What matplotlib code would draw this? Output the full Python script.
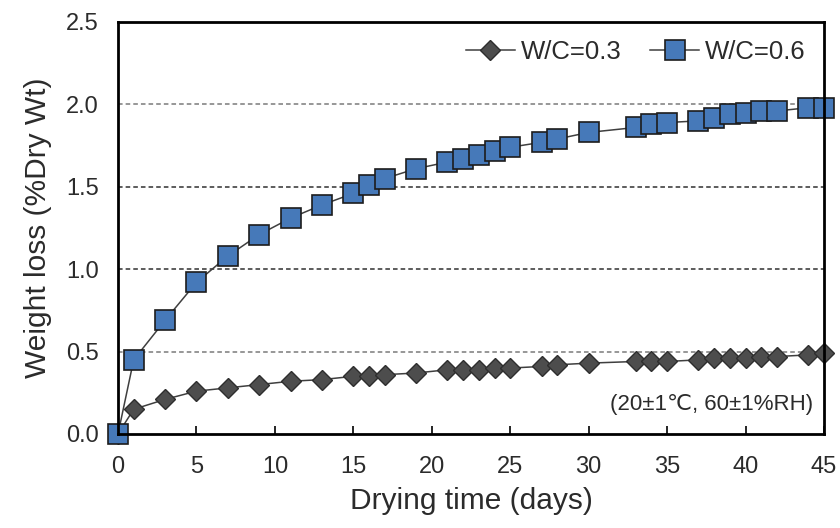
import matplotlib
matplotlib.use("Agg")

import matplotlib.pyplot as plt

# -----------------------
# DATA
# -----------------------
days = [0, 1, 3, 5, 7, 9, 11, 13, 15, 16, 17, 19, 21, 22, 23, 24, 25,
        27, 28, 30, 33, 34, 35, 37, 38, 39, 40, 41, 42, 44, 45]

loss_wc03 = [0.00, 0.15, 0.21, 0.26, 0.28, 0.30, 0.32, 0.33, 0.35, 0.35, 0.36,
             0.37, 0.39, 0.39, 0.39, 0.40, 0.40, 0.41, 0.42, 0.43, 0.44, 0.44,
             0.44, 0.45, 0.46, 0.46, 0.46, 0.47, 0.47, 0.48, 0.49]

loss_wc06 = [0.00, 0.45, 0.69, 0.92, 1.08, 1.21, 1.31, 1.39, 1.46, 1.51, 1.55,
             1.61, 1.65, 1.67, 1.69, 1.72, 1.74, 1.77, 1.79, 1.83, 1.86, 1.88,
             1.89, 1.90, 1.92, 1.94, 1.95, 1.96, 1.96, 1.98, 1.98]

x_ticks = [0, 5, 10, 15, 20, 25, 30, 35, 40, 45]
y_ticks = [0.0, 0.5, 1.0, 1.5, 2.0, 2.5]
grid_levels = [0.5, 1.0, 1.5, 2.0]
grid_colors = ["#7a7a7a", "#303030", "#303030", "#7a7a7a"]

text_color = "#2b2b2b"
plt.rcParams['font.family'] = ['Liberation Sans', 'DejaVu Sans']

# -----------------------
# PLOT
# -----------------------
fig = plt.figure(figsize=(8.4, 5.28), dpi=100)
ax = fig.add_axes([118 / 840, 1 - 434 / 528, (824 - 118) / 840, (434 - 22) / 528])

for lvl, col in zip(grid_levels, grid_colors):
    ax.axhline(lvl, color=col, lw=1.1, ls=(0, (3, 2)), zorder=1)

ax.plot(days, loss_wc03, color="#3f3f3f", lw=1.1, marker="D", ms=10.5,
        mfc="#4d4d4d", mec="#2e2e2e", mew=1.0, label="W/C=0.3",
        clip_on=False, zorder=3)
ax.plot(days, loss_wc06, color="#3f3f3f", lw=1.1, marker="s", ms=14,
        mfc="#4679b9", mec="#1c1c1c", mew=1.2, label="W/C=0.6",
        clip_on=False, zorder=4)

ax.set_xlim(0, 45)
ax.set_ylim(0, 2.5)
ax.set_xticks(x_ticks)
ax.set_yticks(y_ticks)
ax.set_yticklabels([f"{v:.1f}" for v in y_ticks])

ax.tick_params(axis="x", direction="in", length=6, width=1.2, pad=16,
               labelsize=17, labelcolor=text_color)
ax.tick_params(axis="y", length=0, pad=14, labelsize=17, labelcolor=text_color)

for sp in ax.spines.values():
    sp.set_linewidth(2.0)
    sp.set_color("black")
    sp.set_zorder(5)

ax.set_xlabel("Drying time (days)", fontsize=21.5, color=text_color, labelpad=6)
ax.set_ylabel("Weight loss (%Dry Wt)", fontsize=21.5, color=text_color, labelpad=10)

ax.legend(loc="upper right", ncol=2, frameon=False, fontsize=18.5,
          handlelength=1.9, handletextpad=0.25, columnspacing=1.1,
          borderaxespad=0.3, labelcolor=text_color)

ax.text(0.985, 0.045, "(20±1℃, 60±1%RH)", transform=ax.transAxes,
        ha="right", va="bottom", fontsize=16, color=text_color)

fig.savefig("out.png", dpi=100)
plt.close(fig)
